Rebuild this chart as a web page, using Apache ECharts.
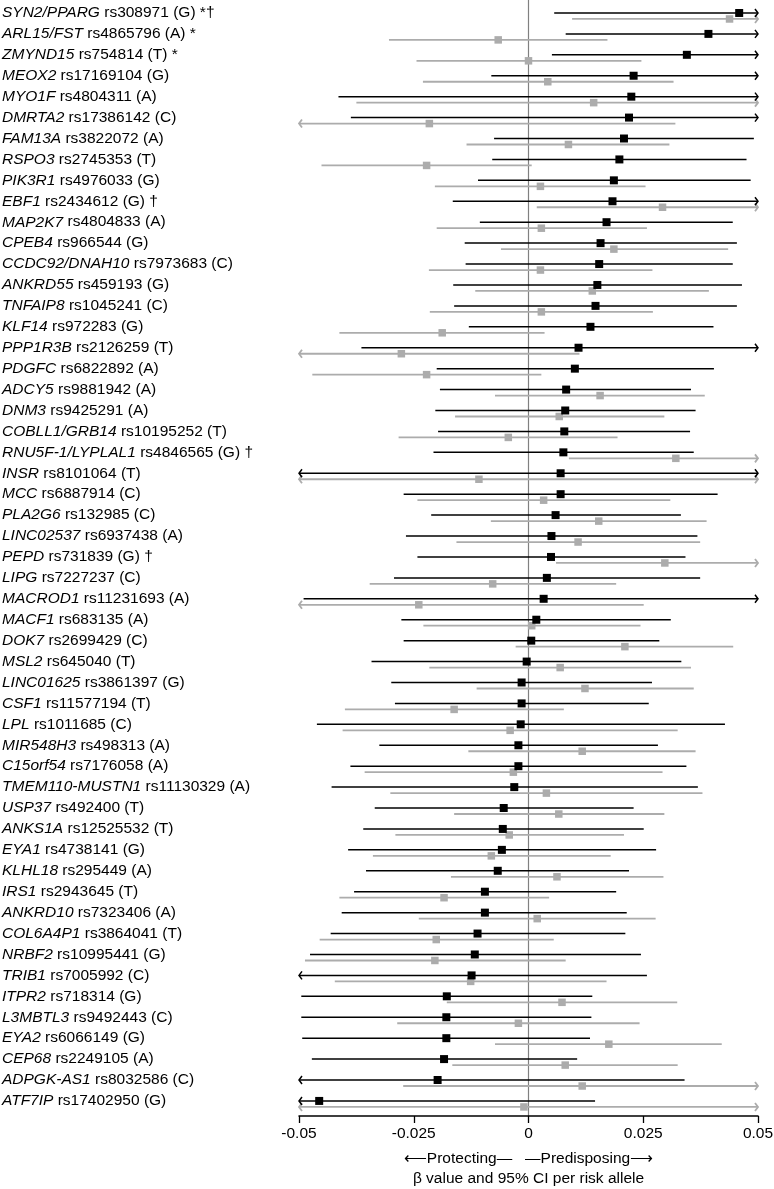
<!DOCTYPE html>
<html>
  <head>
    <title></title>
    <meta charset="UTF-8" />
    <script src="https://cdn.jsdelivr.net/npm/echarts@6/dist/echarts.min.js"></script>
    <style>
      html, body { margin: 0; padding: 0; background: #fff; }
    </style>
  </head>
  <body>
    <div id="main"></div>
    <script>
      const width = 774;
      const height = 1189;
      const main = document.getElementById('main');
      main.style.width = `${width}px`;
      main.style.height = `${height}px`;

      const genes = [
        'SYN2/PPARG', 'ARL15/FST', 'ZMYND15', 'MEOX2', 'MYO1F', 'DMRTA2', 'FAM13A', 'RSPO3', 'PIK3R1', 'EBF1',
        'MAP2K7', 'CPEB4', 'CCDC92/DNAH10', 'ANKRD55', 'TNFAIP8', 'KLF14', 'PPP1R3B', 'PDGFC', 'ADCY5', 'DNM3',
        'COBLL1/GRB14', 'RNU5F-1/LYPLAL1', 'INSR', 'MCC', 'PLA2G6', 'LINC02537', 'PEPD', 'LIPG', 'MACROD1', 'MACF1',
        'DOK7', 'MSL2', 'LINC01625', 'CSF1', 'LPL', 'MIR548H3', 'C15orf54', 'TMEM110-MUSTN1', 'USP37', 'ANKS1A',
        'EYA1', 'KLHL18', 'IRS1', 'ANKRD10', 'COL6A4P1', 'NRBF2', 'TRIB1', 'ITPR2', 'L3MBTL3', 'EYA2',
        'CEP68', 'ADPGK-AS1', 'ATF7IP',
      ];
      const snps = [
        'rs308971 (G) *†', 'rs4865796 (A) *', 'rs754814 (T) *', 'rs17169104 (G)', 'rs4804311 (A)', 'rs17386142 (C)',
        'rs3822072 (A)', 'rs2745353 (T)', 'rs4976033 (G)', 'rs2434612 (G) †', 'rs4804833 (A)', 'rs966544 (G)',
        'rs7973683 (C)', 'rs459193 (G)', 'rs1045241 (C)', 'rs972283 (G)', 'rs2126259 (T)', 'rs6822892 (A)',
        'rs9881942 (A)', 'rs9425291 (A)', 'rs10195252 (T)', 'rs4846565 (G) †', 'rs8101064 (T)', 'rs6887914 (C)',
        'rs132985 (C)', 'rs6937438 (A)', 'rs731839 (G) †', 'rs7227237 (C)', 'rs11231693 (A)', 'rs683135 (A)',
        'rs2699429 (C)', 'rs645040 (T)', 'rs3861397 (G)', 'rs11577194 (T)', 'rs1011685 (C)', 'rs498313 (A)',
        'rs7176058 (A)', 'rs11130329 (A)', 'rs492400 (T)', 'rs12525532 (T)', 'rs4738141 (G)', 'rs295449 (A)',
        'rs2943645 (T)', 'rs7323406 (A)', 'rs3864041 (T)', 'rs10995441 (G)', 'rs7005992 (C)', 'rs718314 (G)',
        'rs9492443 (C)', 'rs6066149 (G)', 'rs2249105 (A)', 'rs8032586 (C)', 'rs17402950 (G)',
      ];

      // black: main estimate
      const blackBeta = [
        0.0459, 0.0392, 0.0345, 0.0229, 0.0224, 0.0219, 0.0208, 0.0198, 0.0186, 0.0183,
        0.0170, 0.0157, 0.0154, 0.0150, 0.0146, 0.0135, 0.0109, 0.0101, 0.0082, 0.0080,
        0.0078, 0.0076, 0.0070, 0.0070, 0.0059, 0.0050, 0.0049, 0.0040, 0.0033, 0.0017,
        0.0006, -0.0004, -0.0015, -0.0015, -0.0017, -0.0022, -0.0022, -0.0031, -0.0054, -0.0056,
        -0.0058, -0.0067, -0.0095, -0.0095, -0.0111, -0.0117, -0.0124, -0.0178, -0.0179, -0.0179,
        -0.0184, -0.0198, -0.0456,
      ];
      const blackLo = [
        0.0056, 0.0081, 0.0051, -0.0081, -0.0414, -0.0387, -0.0075, -0.0079, -0.0110, -0.0165,
        -0.0106, -0.0139, -0.0137, -0.0164, -0.0162, -0.0130, -0.0364, -0.0200, -0.0193, -0.0203,
        -0.0197, -0.0207, -0.0520, -0.0272, -0.0212, -0.0267, -0.0242, -0.0293, -0.0490, -0.0277,
        -0.0272, -0.0342, -0.0299, -0.0291, -0.0461, -0.0325, -0.0388, -0.0429, -0.0335, -0.0360,
        -0.0393, -0.0354, -0.0380, -0.0407, -0.0431, -0.0476, -0.0506, -0.0495, -0.0495, -0.0493,
        -0.0472, -0.0736, -0.1057,
      ];
      const blackHi = [
        0.0862, 0.0703, 0.0639, 0.0539, 0.0862, 0.0825, 0.0491, 0.0475, 0.0484, 0.0531,
        0.0445, 0.0454, 0.0445, 0.0465, 0.0454, 0.0403, 0.0582, 0.0404, 0.0354, 0.0364,
        0.0352, 0.0360, 0.0660, 0.0412, 0.0332, 0.0368, 0.0342, 0.0374, 0.0556, 0.0310,
        0.0285, 0.0333, 0.0269, 0.0262, 0.0428, 0.0282, 0.0344, 0.0369, 0.0229, 0.0251,
        0.0278, 0.0219, 0.0191, 0.0214, 0.0211, 0.0245, 0.0258, 0.0139, 0.0137, 0.0134,
        0.0106, 0.0340, 0.0145,
      ];

      // grey: second estimate
      const greyBeta = [
        0.0438, -0.0066, 0.0000, 0.0042, 0.0142, -0.0216, 0.0087, -0.0222, 0.0026, 0.0292,
        0.0028, 0.0186, 0.0026, 0.0139, 0.0028, -0.0188, -0.0277, -0.0222, 0.0156, 0.0067,
        -0.0044, 0.0321, -0.0108, 0.0033, 0.0153, 0.0108, 0.0297, -0.0078, -0.0239, 0.0007,
        0.0210, 0.0069, 0.0123, -0.0162, -0.0040, 0.0117, -0.0033, 0.0039, 0.0066, -0.0042,
        -0.0081, 0.0062, -0.0184, 0.0019, -0.0201, -0.0204, -0.0126, 0.0073, -0.0022, 0.0175,
        0.0080, 0.0117, -0.0010,
      ];
      const greyLo = [
        0.0095, -0.0304, -0.0244, -0.0230, -0.0375, -0.0752, -0.0135, -0.0451, -0.0204, 0.0018,
        -0.0200, -0.0060, -0.0217, -0.0116, -0.0215, -0.0412, -0.0665, -0.0471, -0.0073, -0.0160,
        -0.0283, 0.0088, -0.0750, -0.0242, -0.0082, -0.0157, 0.0060, -0.0346, -0.0729, -0.0229,
        -0.0028, -0.0216, -0.0113, -0.0400, -0.0405, -0.0131, -0.0357, -0.0301, -0.0162, -0.0290,
        -0.0339, -0.0169, -0.0412, -0.0239, -0.0455, -0.0487, -0.0422, -0.0178, -0.0286, -0.0073,
        -0.0166, -0.0273, -0.0560,
      ];
      const greyHi = [
        0.0781, 0.0172, 0.0246, 0.0316, 0.0659, 0.0320, 0.0307, 0.0007, 0.0255, 0.0566,
        0.0258, 0.0435, 0.0270, 0.0393, 0.0271, 0.0035, 0.0111, 0.0028, 0.0384, 0.0296,
        0.0194, 0.0554, 0.0540, 0.0309, 0.0388, 0.0374, 0.0534, 0.0191, 0.0251, 0.0244,
        0.0446, 0.0354, 0.0360, 0.0077, 0.0325, 0.0364, 0.0292, 0.0379, 0.0296, 0.0208,
        0.0179, 0.0294, 0.0045, 0.0277, 0.0055, 0.0081, 0.0170, 0.0324, 0.0242, 0.0421,
        0.0325, 0.0507, 0.0540,
      ];

      const xMin = -0.05;
      const xMax = 0.05;

      const FONT = '"Liberation Sans", Arial, Helvetica, sans-serif';
      const FS = 15.5;

      function ciRenderer(color, lineW, sq, dy) {
        return function (params, api) {
          const row = api.value(0);
          const beta = api.value(1);
          const lo = api.value(2);
          const hi = api.value(3);
          const a = api.coord([Math.max(lo, xMin), row]);
          const b = api.coord([Math.min(hi, xMax), row]);
          const c = api.coord([beta, row]);
          const y = a[1] + dy;
          const stroke = { stroke: color, lineWidth: lineW, fill: null };
          const children = [
            { type: 'line', shape: { x1: a[0], y1: y, x2: b[0], y2: y }, style: stroke },
          ];
          if (lo < xMin) {
            children.push({
              type: 'polyline',
              shape: { points: [[a[0] + 3, y - 4], [a[0], y], [a[0] + 3, y + 4]] },
              style: stroke,
            });
          }
          if (hi > xMax) {
            children.push({
              type: 'polyline',
              shape: { points: [[b[0] - 3, y - 4], [b[0], y], [b[0] - 3, y + 4]] },
              style: stroke,
            });
          }
          children.push({
            type: 'rect',
            shape: { x: c[0] - sq / 2, y: y - sq / 2, width: sq, height: sq },
            style: { fill: color },
          });
          return { type: 'group', children };
        };
      }

      const rows = genes.map((g, i) => i);
      const blackData = rows.map((i) => [i, blackBeta[i], blackLo[i], blackHi[i]]);
      const greyData = rows.map((i) => [i, greyBeta[i], greyLo[i], greyHi[i]]);

      const myChart = echarts.init(main);
      const option = {
        animation: false,
        grid: { left: 299, right: 16, top: 0, bottom: 73, outerBoundsMode: 'none', containLabel: false },
        xAxis: {
          type: 'value',
          position: 'bottom',
          min: xMin,
          max: xMax,
          interval: 0.025,
          splitLine: { show: false },
          axisLine: { show: true, onZero: false, lineStyle: { color: '#000', width: 1.5 } },
          axisTick: { show: true, length: 7, lineStyle: { color: '#000', width: 1.3 } },
          axisLabel: {
            color: '#000',
            fontSize: FS,
            fontFamily: FONT,
            margin: 10,
          },
          name: '⟵Protecting—   —Predisposing⟶\nβ value and 95% CI per risk allele',
          nameLocation: 'middle',
          nameGap: 33,
          nameTextStyle: {
            color: '#000',
            fontSize: FS,
            fontFamily: FONT,
            lineHeight: 20,
            verticalAlign: 'top',
          },
        },
        yAxis: {
          type: 'value',
          inverse: true,
          min: -0.62,
          max: 52.72,
          splitLine: { show: false },
          // the y axis line sits on x = 0 and draws the zero reference line
          axisLine: { show: true, onZero: true, lineStyle: { color: '#808080', width: 1.2 } },
          axisTick: { show: false },
          axisLabel: {
            customValues: rows,
            align: 'left',
            margin: 297,
            color: '#000',
            fontSize: FS,
            fontFamily: FONT,
            formatter: (v) => '{g|' + genes[v] + '} ' + snps[v],
            rich: {
              g: { fontStyle: 'italic', color: '#000', fontSize: FS, fontFamily: FONT },
            },
          },
        },
        series: [
          {
            name: 'grey',
            type: 'custom',
            z: 2,
            renderItem: ciRenderer('#acacac', 1.8, 7.5, 6),
            encode: { x: [1, 2, 3], y: 0 },
            data: greyData,
          },
          {
            name: 'black',
            type: 'custom',
            z: 3,
            renderItem: ciRenderer('#000', 1.5, 8, 0),
            encode: { x: [1, 2, 3], y: 0 },
            data: blackData,
          },
        ],
      };
      myChart.setOption(option);
    </script>
  </body>
</html>
